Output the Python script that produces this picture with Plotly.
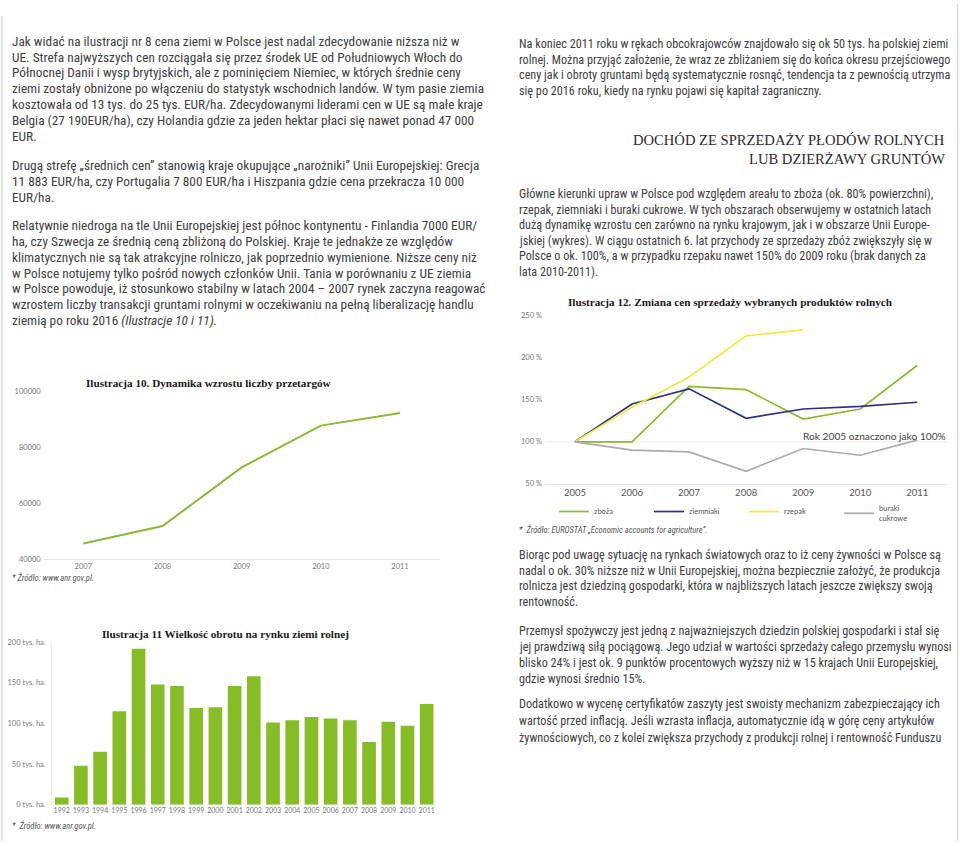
import plotly.graph_objects as go

W, H = 960, 846

# ---------------- data ----------------
# Ilustracja 10 - number of tenders
tender_years = [2007, 2008, 2009, 2010, 2011]
tender_counts = [45600, 51800, 72800, 87800, 92300]
tender_ticks = [40000, 60000, 80000, 100000]
tender_ticktext = ["40000", "60000", "80000", "100000"]

# Ilustracja 11 - turnover on agricultural land market (tys. ha)
turnover_years = list(range(1992, 2012))
turnover_values = [9, 48, 65, 115, 192, 148, 146, 119, 120, 146,
                   158, 101, 104, 108, 106, 104, 77, 102, 97, 124]
turnover_ticks = [0, 50, 100, 150, 200]
turnover_ticktext = ["0 tys. ha.", "50 tys. ha.", "100 tys. ha.", "150 tys. ha.", "200 tys. ha."]

# Ilustracja 12 - price change (2005 = 100%)
price_years = [2005, 2006, 2007, 2008, 2009, 2010, 2011]
zboza = [100, 100, 166, 162, 127, 139, 191]
ziemniaki = [100, 145, 163, 128, 139, 142, 147]
rzepak = [100, 141, 177, 226, 233, None, None]
buraki = [100, 90, 88, 65, 92, 84, 102]
price_ticks = [50, 100, 150, 200, 250]
price_ticktext = ["50 %", "100 %", "150 %", "200 %", "250 %"]

# ---------------- page text ----------------
left_p1 = [
    "Jak widać na ilustracji nr 8 cena ziemi w Polsce jest nadal zdecydowanie niższa niż w",
    "UE. Strefa najwyższych cen rozciągała się przez środek UE od Południowych Włoch do",
    "Północnej Danii i wysp brytyjskich, ale z pominięciem Niemiec, w których średnie ceny",
    "ziemi zostały obniżone po włączeniu do statystyk wschodnich landów. W tym pasie ziemia",
    "kosztowała od 13 tys. do 25 tys. EUR/ha. Zdecydowanymi liderami cen w UE są małe kraje",
    "Belgia (27 190EUR/ha), czy Holandia gdzie za jeden hektar płaci się nawet ponad 47 000",
    "EUR.",
]
left_p2 = [
    "Drugą strefę „średnich cen” stanowią kraje okupujące „narożniki” Unii Europejskiej: Grecja",
    "11 883 EUR/ha, czy Portugalia 7 800 EUR/ha i Hiszpania gdzie cena przekracza 10 000",
    "EUR/ha.",
]
left_p3 = [
    "Relatywnie niedroga na tle Unii Europejskiej jest północ kontynentu - Finlandia 7000 EUR/",
    "ha, czy Szwecja ze średnią ceną zbliżoną do Polskiej. Kraje te jednakże ze względów",
    "klimatycznych nie są tak atrakcyjne rolniczo, jak poprzednio wymienione. Niższe ceny niż",
    "w Polsce notujemy tylko pośród nowych członków Unii. Tania w porównaniu z UE ziemia",
    "w Polsce powoduje, iż stosunkowo stabilny w latach 2004 – 2007 rynek zaczyna reagować",
    "wzrostem liczby transakcji gruntami rolnymi w oczekiwaniu na pełną liberalizację handlu",
    "ziemią po roku 2016 <i>(Ilustracje 10 i 11).</i>",
]
right_p1 = [
    "Na koniec 2011 roku w rękach obcokrajowców znajdowało się ok 50 tys. ha polskiej ziemi",
    "rolnej. Można przyjąć założenie, że wraz ze zbliżaniem się do końca okresu przejściowego",
    "ceny jak i obroty gruntami będą systematycznie rosnąć, tendencja ta z pewnością utrzyma",
    "się po 2016 roku, kiedy na rynku pojawi się kapitał zagraniczny.",
]
heading = ["DOCHÓD ZE SPRZEDAŻY PŁODÓW ROLNYCH", "LUB DZIERŻAWY GRUNTÓW"]
right_p2 = [
    "Główne kierunki upraw w Polsce pod względem areału to zboża (ok. 80% powierzchni),",
    "rzepak, ziemniaki i buraki cukrowe. W tych obszarach obserwujemy w ostatnich latach",
    "dużą dynamikę wzrostu cen zarówno na rynku krajowym, jak i w obszarze Unii Europe-",
    "jskiej (wykres). W ciągu ostatnich 6. lat przychody ze sprzedaży zbóż zwiększyły się w",
    "Polsce o ok. 100%, a w przypadku rzepaku nawet 150% do 2009 roku (brak danych za",
    "lata 2010-2011).",
]
right_p3 = [
    "Biorąc pod uwagę sytuację na rynkach światowych oraz to iż ceny żywności w Polsce są",
    "nadal o ok. 30% niższe niż w Unii Europejskiej, można bezpiecznie założyć, że produkcja",
    "rolnicza jest dziedziną gospodarki, która w najbliższych latach jeszcze zwiększy swoją",
    "rentowność.",
]
right_p4 = [
    "Przemysł spożywczy jest jedną z najważniejszych dziedzin polskiej gospodarki i stał się",
    "jej prawdziwą siłą pociągową. Jego udział w wartości sprzedaży całego przemysłu wynosi",
    "blisko 24% i jest ok. 9 punktów procentowych wyższy niż w 15 krajach Unii Europejskiej,",
    "gdzie wynosi średnio 15%.",
]
right_p5 = [
    "Dodatkowo w wycenę certyfikatów zaszyty jest swoisty mechanizm zabezpieczający ich",
    "wartość przed inflacją. Jeśli wzrasta inflacja, automatycznie idą w górę ceny artykułów",
    "żywnościowych, co z kolei zwiększa przychody z produkcji rolnej i rentowność Funduszu",
]

BODY_FONT = "Liberation Sans Narrow, Arial Narrow, Roboto Condensed, Liberation Sans, sans-serif"
SERIF = "Liberation Serif, DejaVu Serif, serif"
TICK_FONT = "Lato, Open Sans, sans-serif"
TEXT_COL = "#404040"
GREEN = "#86bc25"


def px(x):
    return x / W


def py(y):
    return 1 - y / H


annotations = []


def paragraph(lines, x, y0, step, size=13, color=TEXT_COL, family=BODY_FONT, anchor="left"):
    for i, line in enumerate(lines):
        annotations.append(dict(
            text=line, x=px(x), y=py(y0 + i * step), xref="paper", yref="paper",
            xanchor=anchor, yanchor="middle", showarrow=False,
            font=dict(family=family, size=size, color=color),
        ))


paragraph(left_p1, 10, 37.7, 16, size=13.3)
paragraph(left_p2, 10, 163.5, 16, size=13.3)
paragraph(left_p3, 10, 224, 16, size=13.3)
paragraph(right_p1, 517, 40, 16.1, size=12.2)
paragraph(heading, 947, 137.7, 18.5, size=14.6, color="#2b2b2b", family=SERIF, anchor="right")
paragraph(right_p2, 517, 192.3, 15.7, size=12.2)
paragraph(right_p3, 517, 556.7, 16, size=12.2)
paragraph(right_p4, 517, 634, 16, size=12.2)
paragraph(right_p5, 517, 707.5, 17, size=12.2)

# chart titles
paragraph(["<b>Ilustracja 10. Dynamika wzrostu liczby przetargów</b>"], 209, 383.5, 0,
          size=11.2, color="#1a1a1a", family=SERIF, anchor="center")
paragraph(["<b>Ilustracja 11 Wielkość obrotu na rynku ziemi rolnej</b>"], 225, 636.5, 0,
          size=11.2, color="#1a1a1a", family=SERIF, anchor="center")
paragraph(["<b>Ilustracja 12. Zmiana cen sprzedaży wybranych produktów rolnych</b>"], 730, 301.5, 0,
          size=11.2, color="#1a1a1a", family=SERIF, anchor="center")

# sources
paragraph(["<i>* Źródło: www.anr.gov.pl.</i>"], 10, 580, 0, size=8.5, color="#555555")
paragraph(["<i>*  Źródło: www.anr.gov.pl.</i>"], 10, 830, 0, size=8.5, color="#555555")
paragraph(["<i>*  Źródło: EUROSTAT „Economic accounts for agriculture”.</i>"], 517, 530.7, 0,
          size=8.5, color="#555555")

# note in chart 12
paragraph(["Rok 2005 oznaczono jako 100%"], 948, 437, 0, size=10.2, color="#444444",
          family=TICK_FONT, anchor="right")

fig = go.Figure()

# Chart 10
fig.add_trace(go.Scatter(x=tender_years, y=tender_counts, mode="lines",
                         line=dict(color="#8cb83a", width=2), showlegend=False,
                         xaxis="x", yaxis="y"))
# Chart 11
fig.add_trace(go.Bar(x=turnover_years, y=turnover_values, marker=dict(color=GREEN, line=dict(width=0)),
                     width=0.71, showlegend=False, xaxis="x2", yaxis="y2"))
# Chart 12
fig.add_trace(go.Scatter(x=price_years, y=zboza, name="zboża", mode="lines",
                         line=dict(color="#8cbb2e", width=1.7), xaxis="x3", yaxis="y3"))
fig.add_trace(go.Scatter(x=price_years, y=ziemniaki, name="ziemniaki", mode="lines",
                         line=dict(color="#2e3284", width=1.7), xaxis="x3", yaxis="y3"))
fig.add_trace(go.Scatter(x=price_years, y=rzepak, name="rzepak", mode="lines",
                         line=dict(color="#f1ec3c", width=1.7), xaxis="x3", yaxis="y3"))
fig.add_trace(go.Scatter(x=price_years, y=buraki, name="buraki<br>cukrowe", mode="lines",
                         line=dict(color="#acacac", width=1.7), xaxis="x3", yaxis="y3"))

tickfont_small = dict(family=TICK_FONT, size=7.5, color="#777777")

fig.update_layout(
    width=W, height=H,
    margin=dict(l=0, r=0, t=0, b=0),
    paper_bgcolor="white", plot_bgcolor="rgba(0,0,0,0)",
    annotations=annotations,
    xaxis=dict(domain=[px(43.7), px(439.6)], range=[2006.5, 2011.5], anchor="y",
               tickvals=tender_years, ticks="", showgrid=False, zeroline=False,
               showline=True, linecolor="#e6e6e6", linewidth=1, tickfont=tickfont_small),
    yaxis=dict(domain=[py(561), py(391.7)], range=[40000, 100000], anchor="x",
               tickvals=tender_ticks, ticktext=tender_ticktext, ticks="", showgrid=False,
               zeroline=False, showline=False, tickfont=tickfont_small, ticklabelstandoff=2),
    xaxis2=dict(domain=[px(52.1), px(436.3)], range=[1991.5, 2011.5], anchor="y2",
                tickvals=turnover_years, ticks="", showgrid=False, zeroline=False,
                showline=False, tickfont=dict(family=TICK_FONT, size=7, color="#777777")),
    yaxis2=dict(domain=[py(809.3), py(645)], range=[0, 200], anchor="x2",
                tickvals=turnover_ticks, ticktext=turnover_ticktext, ticks="", showgrid=False,
                zeroline=False, showline=True, linecolor="#efefef", linewidth=1,
                tickfont=tickfont_small, ticklabelstandoff=4),
    xaxis3=dict(domain=[px(545), px(947)], range=[2004.475, 2011.52], anchor="y3",
                tickvals=price_years, ticks="", showgrid=False, zeroline=False,
                showline=True, linecolor="#e6e6e6", linewidth=1,
                tickfont=dict(family=TICK_FONT, size=9.5, color="#555555")),
    yaxis3=dict(domain=[py(485), py(315)], range=[50, 250], anchor="x3",
                tickvals=price_ticks, ticktext=price_ticktext, ticks="", showgrid=False,
                zeroline=False, showline=False, tickfont=tickfont_small, ticklabelstandoff=2),
    legend=dict(orientation="h", x=px(554), y=py(515), xanchor="left", yanchor="middle",
                entrywidth=50, entrywidthmode="pixels", bgcolor="rgba(0,0,0,0)",
                font=dict(family=TICK_FONT, size=7.5, color="#555555"), itemwidth=30,
                traceorder="normal"),
    bargap=0.29,
)

# 100 % reference line in chart 12
fig.add_shape(type="line", xref="x3 domain", yref="y3", x0=0, x1=1, y0=100, y1=100,
              line=dict(color="#ebebeb", width=1), layer="below")

# page border lines
fig.add_shape(type="line", xref="paper", yref="paper", x0=px(2), x1=px(2), y0=0, y1=py(12),
              line=dict(color="#d9d9d9", width=1.5))
fig.add_shape(type="line", xref="paper", yref="paper", x0=px(957.5), x1=px(957.5), y0=0, y1=1,
              line=dict(color="#d9d9d9", width=1.5))

fig.write_html(
    "out.html",
    config={"displayModeBar": False},
    post_script="document.body.style.margin='0';document.body.style.padding='0';"
                "document.body.style.overflow='hidden';",
)
